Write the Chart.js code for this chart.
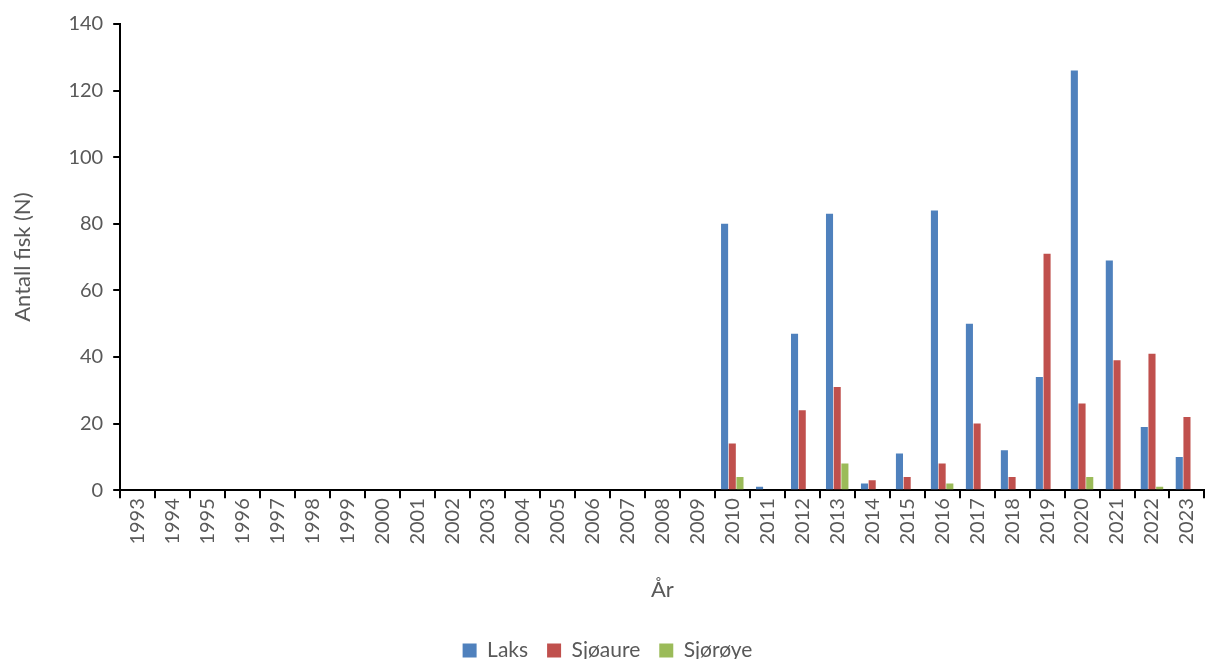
<!DOCTYPE html>
<html>
<head>
<meta charset="utf-8">
<script src="https://cdn.jsdelivr.net/npm/chart.js@4"></script>
<style>
  html, body { margin: 0; padding: 0; background: #fff; }
  #wrap { width: 1211px; height: 659px; position: relative; }
</style>
</head>
<body>
<div id="wrap"><canvas id="chart"></canvas></div>
<script>
// År 1993-2023
const years = ['1993','1994','1995','1996','1997','1998','1999','2000','2001','2002',
  '2003','2004','2005','2006','2007','2008','2009','2010','2011','2012','2013','2014',
  '2015','2016','2017','2018','2019','2020','2021','2022','2023'];

// Antall fisk per art (null = ingen data)
const laks     = [null,null,null,null,null,null,null,null,null,null,null,null,null,null,null,null,null,
  80, 1, 47, 83, 2, 11, 84, 50, 12, 34, 126, 69, 19, 10];
const sjoaure  = [null,null,null,null,null,null,null,null,null,null,null,null,null,null,null,null,null,
  14, 0, 24, 31, 3, 4, 8, 20, 4, 71, 26, 39, 41, 22];
const sjoroye  = [null,null,null,null,null,null,null,null,null,null,null,null,null,null,null,null,null,
  4, 0, 0, 8, 0, 0, 2, 0, 0, 0, 4, 0, 1, 0];

const yTicks = [0, 20, 40, 60, 80, 100, 120, 140];

const font = "Lato, 'Open Sans', sans-serif";
const grey = '#595959';

const ctx = document.getElementById('chart').getContext('2d');
new Chart(ctx, {
  type: 'bar',
  data: {
    labels: years,
    datasets: [
      { label: 'Laks', data: laks, backgroundColor: '#4F81BD' },
      { label: 'Sjøaure', data: sjoaure, backgroundColor: '#C0504D' },
      { label: 'Sjørøye', data: sjoroye, backgroundColor: '#9BBB59' }
    ]
  },
  options: {
    responsive: true,
    maintainAspectRatio: false,
    animation: false,
    categoryPercentage: 0.66,
    barPercentage: 0.92,
    layout: { padding: { left: 6, right: 2, top: 24, bottom: -12 } },
    plugins: {
      tooltip: { enabled: false },
      legend: {
        position: 'bottom',
        labels: {
          font: { family: font, size: 21 },
          color: grey,
          boxWidth: 14,
          boxHeight: 14,
          padding: 19
        }
      }
    },
    scales: {
      x: {
        offset: true,
        grid: {
          offset: true,
          drawOnChartArea: false,
          drawTicks: true,
          tickLength: 8,
          color: '#000',
          lineWidth: 2
        },
        border: { color: '#000', width: 2 },
        ticks: {
          font: { family: font, size: 20 },
          color: grey,
          minRotation: 90,
          maxRotation: 90,
          autoSkip: false,
          padding: 0
        },
        title: {
          display: true,
          text: 'År',
          font: { family: font, size: 22 },
          color: grey,
          padding: { top: 32, bottom: 18 }
        }
      },
      y: {
        min: 0,
        max: 140,
        afterBuildTicks: axis => { axis.ticks = yTicks.map(v => ({ value: v })); },
        grid: {
          drawOnChartArea: false,
          drawTicks: true,
          tickLength: 7,
          color: '#000',
          lineWidth: 2
        },
        border: { color: '#000', width: 2 },
        ticks: {
          font: { family: font, size: 20 },
          color: grey,
          padding: 10
        },
        title: {
          display: true,
          text: 'Antall fisk (N)',
          font: { family: font, size: 22 },
          color: grey,
          padding: { bottom: 22 }
        }
      }
    }
  }
});
</script>
</body>
</html>
